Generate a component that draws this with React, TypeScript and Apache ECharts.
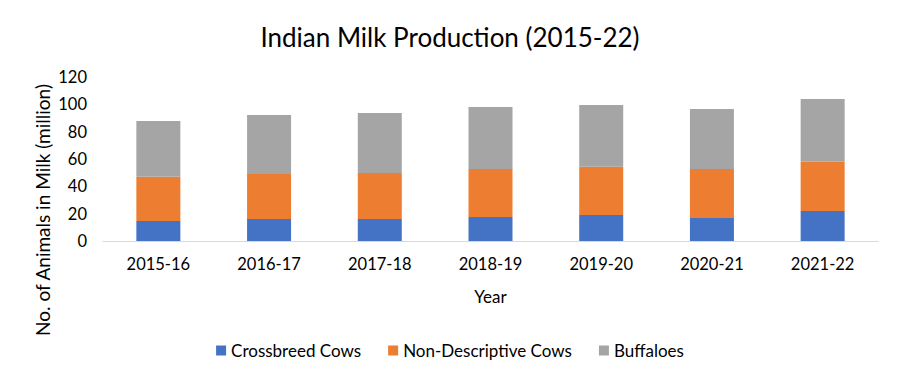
import React, { useEffect, useRef } from "react";
import * as echarts from "echarts";

const years = ["2015-16", "2016-17", "2017-18", "2018-19", "2019-20", "2020-21", "2021-22"];
const crossbreed = [14.6, 16.1, 16.1, 17.6, 19.0, 16.8, 21.9];
const nonDescriptive = [32.4, 32.9, 33.6, 35.1, 35.4, 35.9, 36.1];
const buffaloes = [40.8, 43.2, 43.9, 45.3, 45.1, 43.9, 45.9];
const yAxisTitle = "No. of Animals in Milk (million)";
const FONT = "Lato";

export default function App() {
  const ref = useRef<HTMLDivElement>(null);
  useEffect(() => {
    if (!ref.current) return;
    const chart = echarts.init(ref.current, undefined, { renderer: "svg" });
    chart.setOption({
      animation: false,
      backgroundColor: "#ffffff",
      title: {
        text: "Indian Milk Production (2015-22)",
        left: "center",
        top: 19,
        textStyle: { fontFamily: FONT, fontSize: 26, fontWeight: "normal", color: "#000" },
      },
      legend: {
        bottom: 17,
        left: "center",
        itemWidth: 10,
        itemHeight: 10,
        itemGap: 27,
        icon: "rect",
        textStyle: { fontFamily: FONT, fontSize: 17, color: "#000" },
      },
      graphic: [
        {
          type: "text",
          x: 42,
          y: 210,
          rotation: Math.PI / 2,
          style: {
            text: yAxisTitle,
            fontFamily: FONT,
            fontSize: 19,
            fill: "#000",
            align: "center",
            verticalAlign: "middle",
          },
        },
      ],
      grid: { left: 103, right: 22, top: 77, height: 164 },
      xAxis: {
        type: "category",
        data: years,
        name: "Year",
        nameLocation: "middle",
        nameGap: 47,
        nameTextStyle: { fontFamily: FONT, fontSize: 17, color: "#000" },
        axisLine: { lineStyle: { color: "#d9d9d9" } },
        axisTick: { show: false },
        axisLabel: { fontFamily: FONT, fontSize: 16.5, color: "#000", margin: 14 },
      },
      yAxis: {
        type: "value",
        min: 0,
        max: 120,
        interval: 20,
        splitLine: { show: false },
        axisLine: { show: false },
        axisTick: { show: false },
        axisLabel: { fontFamily: FONT, fontSize: 16.5, color: "#000", margin: 16 },
      },
      series: [
        { name: "Crossbreed Cows", type: "bar", stack: "a", barWidth: 44, data: crossbreed, itemStyle: { color: "#4472C4" } },
        { name: "Non-Descriptive Cows", type: "bar", stack: "a", barWidth: 44, data: nonDescriptive, itemStyle: { color: "#ED7D31" } },
        { name: "Buffaloes", type: "bar", stack: "a", barWidth: 44, data: buffaloes, itemStyle: { color: "#A5A5A5" } },
      ],
    });
    return () => chart.dispose();
  }, []);
  return <div ref={ref} style={{ position: "fixed", left: 0, top: 0, width: 900, height: 381 }} />;
}
